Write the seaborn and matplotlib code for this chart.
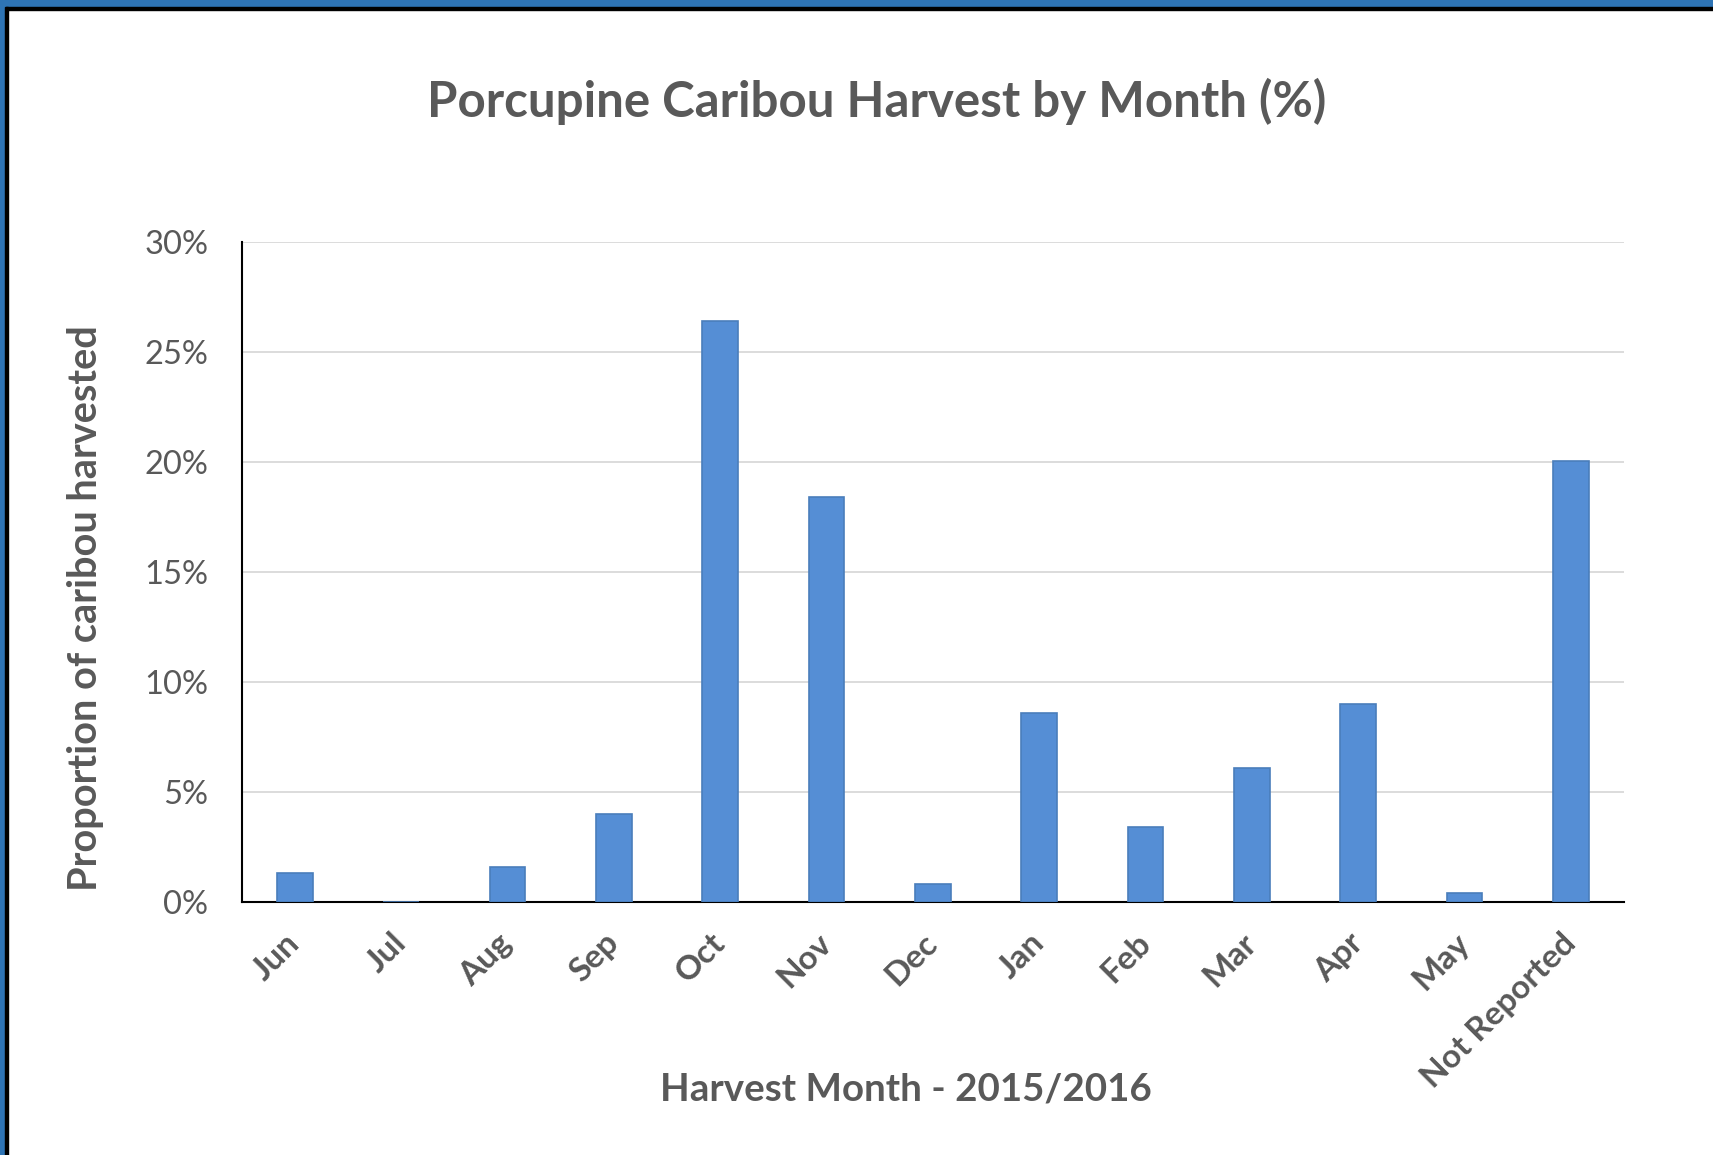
import matplotlib
matplotlib.use("Agg")
import matplotlib.pyplot as plt
from matplotlib.patches import Rectangle
from matplotlib.ticker import PercentFormatter
import seaborn as sns
import pandas as pd

months = ['Jun', 'Jul', 'Aug', 'Sep', 'Oct', 'Nov', 'Dec',
          'Jan', 'Feb', 'Mar', 'Apr', 'May', 'Not Reported']
harvest_pct = [1.3, 0.0, 1.6, 4.0, 26.4, 18.4, 0.8,
               8.6, 3.4, 6.1, 9.0, 0.4, 20.05]
y_ticks = [0, 5, 10, 15, 20, 25, 30]

title = 'Porcupine Caribou Harvest by Month (%)'
x_title = 'Harvest Month - 2015/2016'
y_title = 'Proportion of caribou harvested'

text_grey = '#595959'
bar_blue = '#558ed5'


def main():
    sns.set_style('white')
    plt.rcParams['font.family'] = ['Lato', 'DejaVu Sans']

    df = pd.DataFrame({'month': months, 'pct': harvest_pct})

    fig = plt.figure(figsize=(17.13, 11.55), dpi=100)
    ax = fig.add_axes([0.141, 0.219, 0.807, 0.5715])

    sns.barplot(data=df, x='month', y='pct', color=bar_blue, width=0.335,
                saturation=1, edgecolor='#4a7ebb', linewidth=1.2, ax=ax, zorder=3)

    ax.set_ylim(0, 30)
    ax.set_xlim(-0.5, len(months) - 0.5)
    ax.set_yticks(y_ticks)
    ax.yaxis.set_major_formatter(PercentFormatter(decimals=0))
    ax.grid(axis='y', color='#d9d9d9', linewidth=1.3, zorder=0)
    ax.set_axisbelow(True)

    for side in ['top', 'right']:
        ax.spines[side].set_visible(False)
    for side in ['left', 'bottom']:
        ax.spines[side].set_color('black')
        ax.spines[side].set_linewidth(1.5)

    ax.tick_params(axis='y', length=0, pad=24, labelsize=23.5, labelcolor=text_grey)
    ax.tick_params(axis='x', length=0, pad=26, labelsize=24, labelcolor=text_grey)
    for lbl in ax.get_xticklabels():
        lbl.set_rotation(45)
        lbl.set_ha('right')
        lbl.set_va('center')
        lbl.set_rotation_mode('anchor')
        lbl.set_fontweight('bold')
    ax.set_xlabel('')
    ax.set_ylabel('')

    fig.text(0.512, 0.9126, title, ha='center', va='center',
             fontsize=35.5, fontweight='bold', color=text_grey)
    fig.text(0.529, 0.0563, x_title, ha='center', va='center',
             fontsize=27.7, fontweight='bold', color=text_grey)
    fig.text(0.05, 0.4736, y_title, ha='center', va='center', rotation=90,
             fontsize=28.6, fontweight='bold', color=text_grey)

    # window frame: blue band with a dark inner line, top and left only
    W, H = 1713, 1155
    fig.patches.append(Rectangle((0, 1 - 7 / H), 1, 7 / H, transform=fig.transFigure,
                                 color='#2e74b5', zorder=10))
    fig.patches.append(Rectangle((0, 1 - 9.5 / H), 1, 2.5 / H, transform=fig.transFigure,
                                 color='black', zorder=10))
    fig.patches.append(Rectangle((0, 0), 5 / W, 1, transform=fig.transFigure,
                                 color='#2e74b5', zorder=10))
    fig.patches.append(Rectangle((5 / W, 0), 2.5 / W, 1 - 7 / H, transform=fig.transFigure,
                                 color='black', zorder=10))

    fig.savefig('out.png', dpi=100)


if __name__ == "__main__":
    main()
